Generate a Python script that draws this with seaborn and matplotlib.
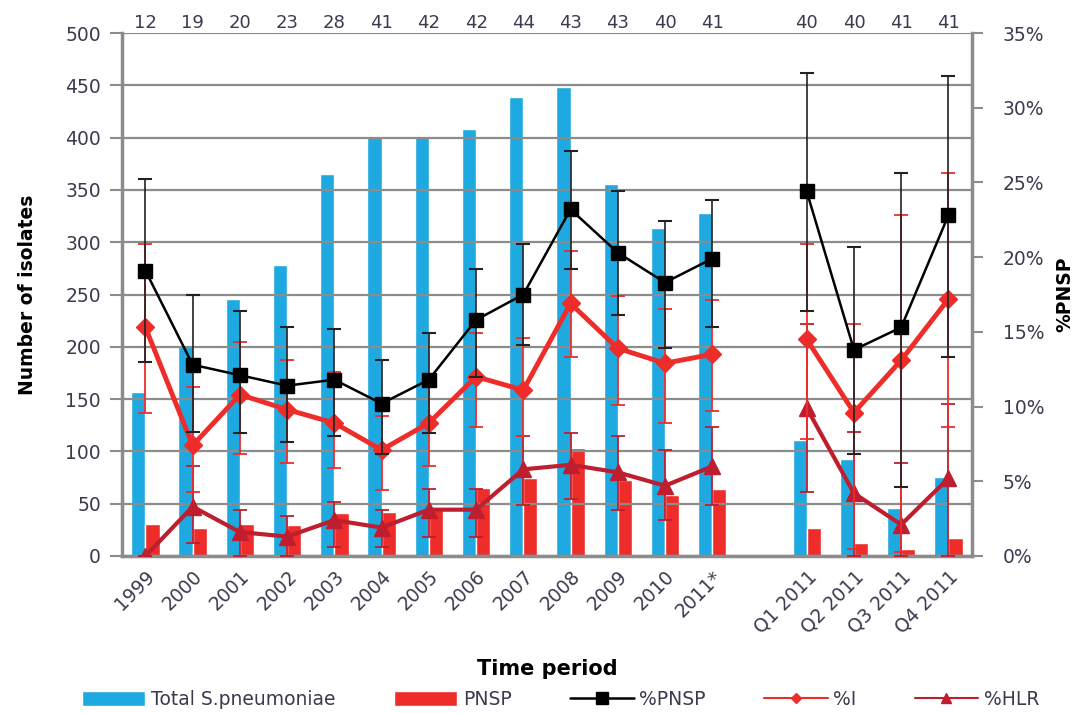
import numpy as np
import pandas as pd
import matplotlib
matplotlib.use("Agg")
import matplotlib.pyplot as plt
import seaborn as sns
from matplotlib.patches import Patch
from matplotlib.lines import Line2D

# -------------------------------
# Data
# -------------------------------
nan = np.nan
periods = ['1999', '2000', '2001', '2002', '2003', '2004', '2005', '2006', '2007',
           '2008', '2009', '2010', '2011*', '', 'Q1 2011', 'Q2 2011', 'Q3 2011', 'Q4 2011']
n_labs = ['12', '19', '20', '23', '28', '41', '42', '42', '44', '43', '43', '40', '41',
          '', '40', '40', '41', '41']

total = [157, 202, 246, 278, 365, 401, 401, 408, 439, 448, 356, 314, 328, nan, 111, 93, 46, 76]
pnsp = [31, 27, 31, 30, 41, 42, 44, 65, 75, 103, 73, 58, 64, nan, 27, 12, 7, 17]

pct_pnsp = [19.1, 12.8, 12.1, 11.4, 11.8, 10.2, 11.8, 15.8, 17.5, 23.2, 20.3, 18.3, 19.9, nan, 24.4, 13.8, 15.3, 22.8]
pnsp_hi = [25.2, 17.5, 16.4, 15.3, 15.2, 13.1, 14.9, 19.2, 20.9, 27.1, 24.4, 22.4, 23.8, nan, 32.3, 20.7, 25.6, 32.1]
pnsp_lo = [13.0, 8.3, 8.2, 7.6, 8.0, 6.8, 8.2, 12.0, 14.1, 19.2, 16.1, 13.9, 15.3, nan, 16.4, 6.8, 4.6, 13.3]

pct_i = [15.3, 7.4, 10.8, 9.8, 8.9, 7.1, 8.9, 12.0, 11.1, 16.9, 13.9, 12.9, 13.5, nan, 14.5, 9.6, 13.1, 17.2]
i_hi = [20.9, 11.3, 14.3, 13.1, 12.3, 9.4, 11.6, 14.9, 14.6, 20.4, 17.4, 16.5, 17.1, nan, 20.9, 15.5, 22.8, 25.6]
i_lo = [9.6, 4.3, 6.8, 6.2, 5.9, 4.4, 6.0, 8.6, 8.0, 13.3, 10.1, 8.9, 9.7, nan, 7.8, 0.5, 0.3, 8.6]

pct_hlr = [0.0, 3.3, 1.6, 1.3, 2.4, 1.9, 3.1, 3.1, 5.8, 6.1, 5.6, 4.7, 6.0, nan, 9.9, 4.2, 2.1, 5.2]
hlr_hi = [0.0, 6.0, 3.1, 2.7, 3.6, 3.1, 4.5, 4.5, 8.0, 8.2, 8.0, 7.1, 8.6, nan, 15.5, 8.3, 6.2, 10.2]
hlr_lo = [0.0, 0.9, 0.0, 0.0, 0.6, 0.6, 1.3, 1.3, 3.4, 3.8, 3.1, 2.4, 3.4, nan, 4.3, 0.0, 0.0, 0.0]

# -------------------------------
# Styling
# -------------------------------
sns.set_theme(style="white")
plt.rcParams['font.family'] = ['DejaVu Sans']

blue = '#1FA9E1'
red = '#EE2D2A'
dark_red = '#BE1E2D'
grey = '#8c8c8c'
txt = '#3b3b4f'

# long-format table for the bars (gap slot has no rows)
rows = []
for p, t, r in zip(periods, total, pnsp):
    if p == '':
        continue
    rows.append({'period': p, 'series': 'Total S.pneumoniae', 'count': t})
    rows.append({'period': p, 'series': 'PNSP', 'count': r})
df_bars = pd.DataFrame(rows)

fig = plt.figure(figsize=(10.78, 7.13), dpi=100)
ax = fig.add_axes([0.113, 0.2202, 0.7887, 0.7335])

sns.barplot(data=df_bars, x='period', y='count', hue='series', order=periods,
            hue_order=['Total S.pneumoniae', 'PNSP'], palette=[blue, red],
            width=0.6, saturation=1, legend=False, ax=ax)

ax.set_xlim(-0.5, len(periods) - 0.5)
ax.set_ylim(0, 500)
ax.set_yticks(np.arange(0, 501, 50))
ax.yaxis.grid(True, color=grey, lw=1.6)
ax.set_axisbelow(False)
ax.tick_params(axis='y', which='major', length=9, width=1.5, color=grey,
               labelsize=13.5, labelcolor=txt, pad=6)
ax.set_ylabel('Number of isolates', fontsize=13.5, fontweight='bold', color='black', labelpad=20)

# x ticks: labels at centres, small tick marks at slot boundaries
xpos = np.arange(len(periods))
ax.set_xticks(xpos)
ax.set_xticklabels(periods, rotation=45, ha='right', rotation_mode='anchor',
                   fontsize=13.5, color=txt)
ax.set_xticks(np.arange(-0.5, len(periods), 1), minor=True)
ax.tick_params(axis='x', which='major', length=0, pad=8)
ax.tick_params(axis='x', which='minor', length=6, width=1.5, color=grey)
ax.set_xlabel('Time period', fontsize=15, fontweight='bold', color='black', labelpad=16)

for side in ['left', 'bottom']:
    ax.spines[side].set_color(grey)
    ax.spines[side].set_linewidth(2.5)
ax.spines['top'].set_visible(False)
ax.spines['right'].set_visible(False)

# sample sizes on top
top = ax.secondary_xaxis('top')
top.set_xticks(xpos)
top.set_xticklabels(n_labs, fontsize=13, color=txt)
top.tick_params(length=0, pad=1)
top.spines['top'].set_visible(False)

# -------------------------------
# Percentage lines on right axis
# -------------------------------
ax2 = ax.twinx()
ax2.set_ylim(0, 35)
ax2.set_yticks(np.arange(0, 36, 5))
ax2.set_yticklabels([f'{v}%' for v in range(0, 36, 5)])
ax2.tick_params(axis='y', length=8, width=1.5, color=grey, labelsize=13.5,
                labelcolor=txt, pad=14)
ax2.set_ylabel('%PNSP', fontsize=13.5, fontweight='bold', color='black',
               rotation=90, labelpad=8)
for side in ['left', 'top', 'bottom']:
    ax2.spines[side].set_visible(False)
ax2.spines['right'].set_color(grey)
ax2.spines['right'].set_linewidth(2.5)


def err(v, lo, hi):
    v, lo, hi = np.array(v), np.array(lo), np.array(hi)
    return np.vstack([v - lo, hi - v])


ax2.errorbar(xpos, pct_hlr, yerr=err(pct_hlr, hlr_lo, hlr_hi), color=dark_red,
             lw=3, marker='^', ms=11, ecolor=dark_red, elinewidth=1.3,
             capsize=5, capthick=1.3, zorder=3)
ax2.errorbar(xpos, pct_i, yerr=err(pct_i, i_lo, i_hi), color=red,
             lw=3.5, marker='D', ms=9, ecolor=red, elinewidth=1.3,
             capsize=5, capthick=1.3, zorder=4)
ax2.errorbar(xpos, pct_pnsp, yerr=err(pct_pnsp, pnsp_lo, pnsp_hi), color='black',
             lw=1.8, marker='s', ms=10, ecolor='#222222', elinewidth=1.2,
             capsize=5, capthick=1.5, zorder=5)

# -------------------------------
# Legend
# -------------------------------
handles = [
    Patch(facecolor=blue, label='Total S.pneumoniae'),
    Patch(facecolor=red, label='PNSP'),
    Line2D([], [], color='black', lw=1.8, marker='s', ms=8, label='%PNSP'),
    Line2D([], [], color=red, lw=1.5, marker='D', ms=5, label='%I'),
    Line2D([], [], color=dark_red, lw=1.5, marker='^', ms=7, label='%HLR'),
]
fig.legend(handles=handles, loc='lower center', bbox_to_anchor=(0.52, -0.018),
           ncol=5, frameon=False, fontsize=13.5, handlelength=3.4,
           handleheight=0.9, columnspacing=3.1, handletextpad=0.3,
           labelcolor=txt)

fig.savefig('out.png', dpi=100)
